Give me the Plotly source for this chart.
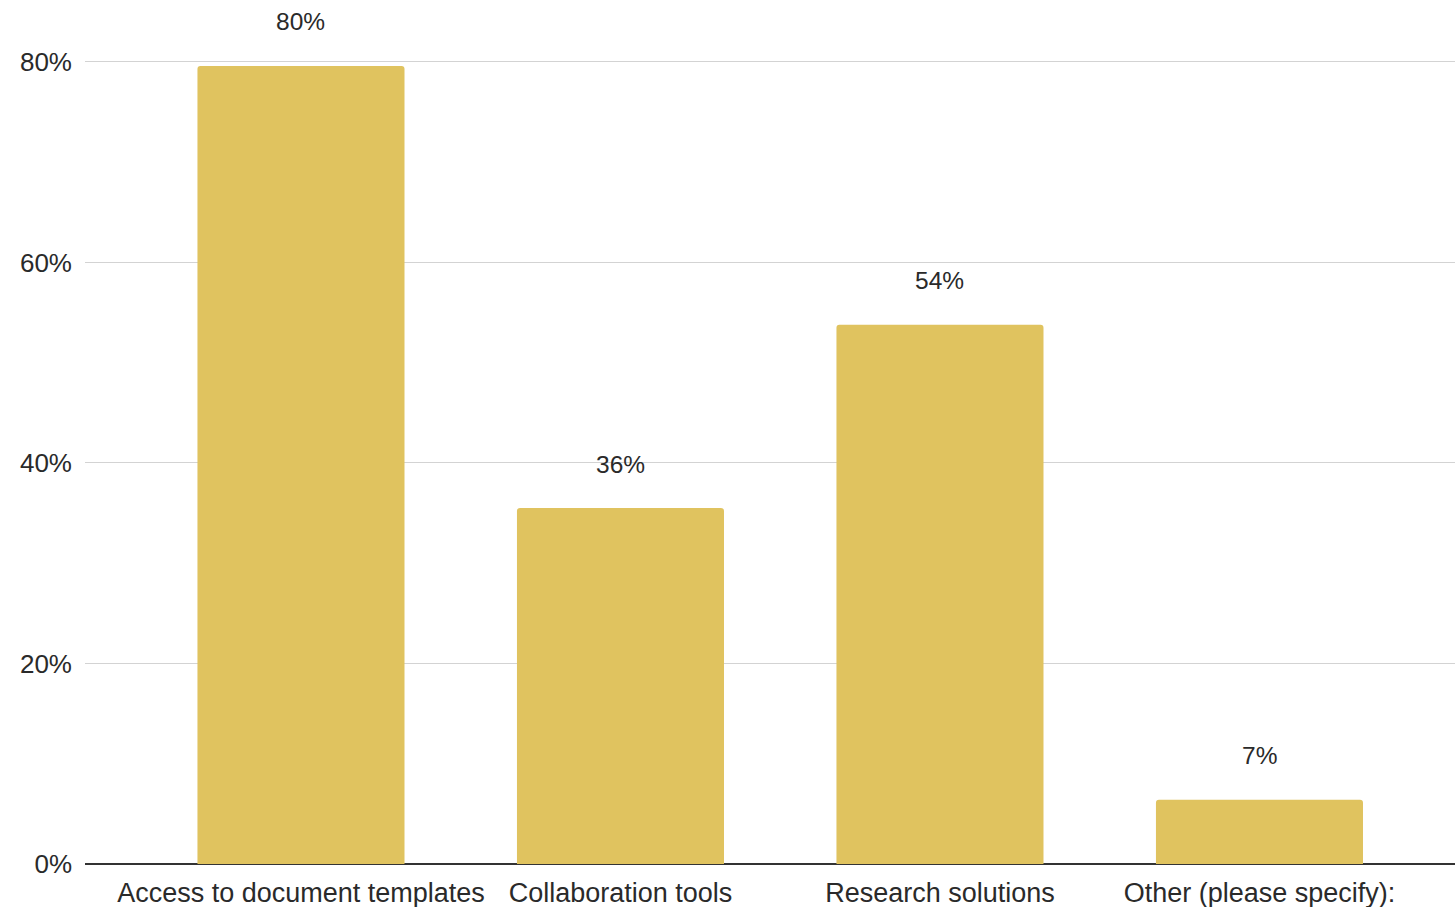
import plotly.graph_objects as go

categories = ["Access to document templates", "Collaboration tools", "Research solutions", "Other (please specify):"]
values = [0.796, 0.355, 0.538, 0.064]
value_labels = ["80%", "36%", "54%", "7%"]
y_ticks = [0, 0.2, 0.4, 0.6, 0.8]
y_tick_labels = ["0%", "20%", "40%", "60%", "80%"]

BAR_COLOR = "#E0C35F"
TEXT_COLOR = "#2a2a2a"
FONT = "Liberation Sans, Arial, sans-serif"

fig = go.Figure()
fig.add_trace(go.Bar(
    x=categories,
    y=values,
    marker=dict(color=BAR_COLOR, line=dict(width=0)),
    hoverinfo="skip",
))

for c, v, t in zip(categories, values, value_labels):
    fig.add_annotation(
        x=c, y=v, text=t, showarrow=False,
        yanchor="middle", yshift=44,
        font=dict(family=FONT, size=24.5, color=TEXT_COLOR),
    )

fig.update_layout(
    width=1455, height=907,
    margin=dict(l=85, r=0, t=0, b=43, pad=0),
    paper_bgcolor="white", plot_bgcolor="white",
    bargap=0.352,
    barcornerradius=3,
    showlegend=False,
    font=dict(family=FONT, color=TEXT_COLOR),
)
fig.update_xaxes(
    range=[-0.676, 3.612],
    showgrid=False, zeroline=False,
    showline=False,
    ticks="", ticklabelstandoff=10,
    tickfont=dict(family=FONT, size=27, color=TEXT_COLOR),
)
fig.update_yaxes(
    range=[0, 0.8618],
    tickvals=y_ticks, ticktext=y_tick_labels,
    showgrid=True, gridcolor="#D3D3D3", gridwidth=1,
    zeroline=True, zerolinecolor="#333333", zerolinewidth=2,
    showline=False, ticks="", ticklabelstandoff=12,
    tickfont=dict(family=FONT, size=26, color=TEXT_COLOR),
)

fig.write_html(
    "out.html",
    config={"displayModeBar": False},
    post_script="document.body.style.margin='0px';document.body.style.overflow='hidden';",
)
